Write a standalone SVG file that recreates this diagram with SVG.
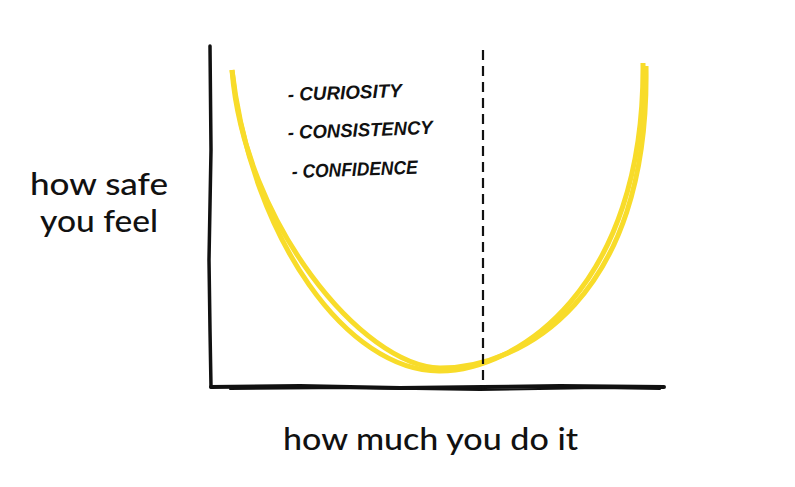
<svg xmlns="http://www.w3.org/2000/svg" width="795" height="487" viewBox="0 0 795 487">
<style>
.axis{fill:none;stroke:#111;stroke-width:3.5;stroke-linecap:round;stroke-linejoin:round}
.curve{fill:none;stroke:#F8DC2A;stroke-width:5;stroke-linecap:butt}
.lbl{font-family:Lato,"Open Sans",sans-serif;font-size:30px;font-weight:500;fill:#111}
.hand{font-family:"Liberation Sans",Arial,sans-serif;font-size:19px;font-weight:bold;font-style:italic;fill:#111}
</style>
<rect width="795" height="487" fill="#fff"/>
<g id="axes">
<path class="axis" d="M210,46 L211,150 L209,260 L210,330 L211,387"/>
<path class="axis" style="stroke-width:4" d="M211,387 L300,386 L400,388 L483,387 L560,386 L664,387"/>
<path class="axis" style="stroke-width:2" d="M230,389 L350,388 L480,390 L600,388 L660,389"/>
</g>
<g id="curve">
<path class="curve" d="M232,70 C252,240 348,372 440,371 C515,371 645,290 643,63"/>
<path class="curve" d="M232,70 C244,222 362,366 440,368 C520,368 650,300 646,66"/>
</g>
<g id="divider">
<line x1="483" y1="50" x2="483" y2="390" stroke="#111" stroke-width="2.2" stroke-dasharray="10,6"/>
</g>
<g id="label-y">
<text class="lbl" x="30" y="195" textLength="138" lengthAdjust="spacingAndGlyphs">how safe</text>
<text class="lbl" x="40" y="232" textLength="118" lengthAdjust="spacingAndGlyphs">you feel</text>
</g>
<g id="label-x">
<text class="lbl" x="283" y="450" textLength="295" lengthAdjust="spacingAndGlyphs">how much you do it</text>
</g>
<g id="notes">
<text class="hand" x="288" y="101" textLength="114" lengthAdjust="spacingAndGlyphs" transform="rotate(-2 288 101)">- CURIOSITY</text>
<text class="hand" x="288" y="139" textLength="145" lengthAdjust="spacingAndGlyphs" transform="rotate(-2 288 139)">- CONSISTENCY</text>
<text class="hand" x="292" y="178" textLength="126" lengthAdjust="spacingAndGlyphs" transform="rotate(-2 292 178)">- CONFIDENCE</text>
</g>
</svg>
